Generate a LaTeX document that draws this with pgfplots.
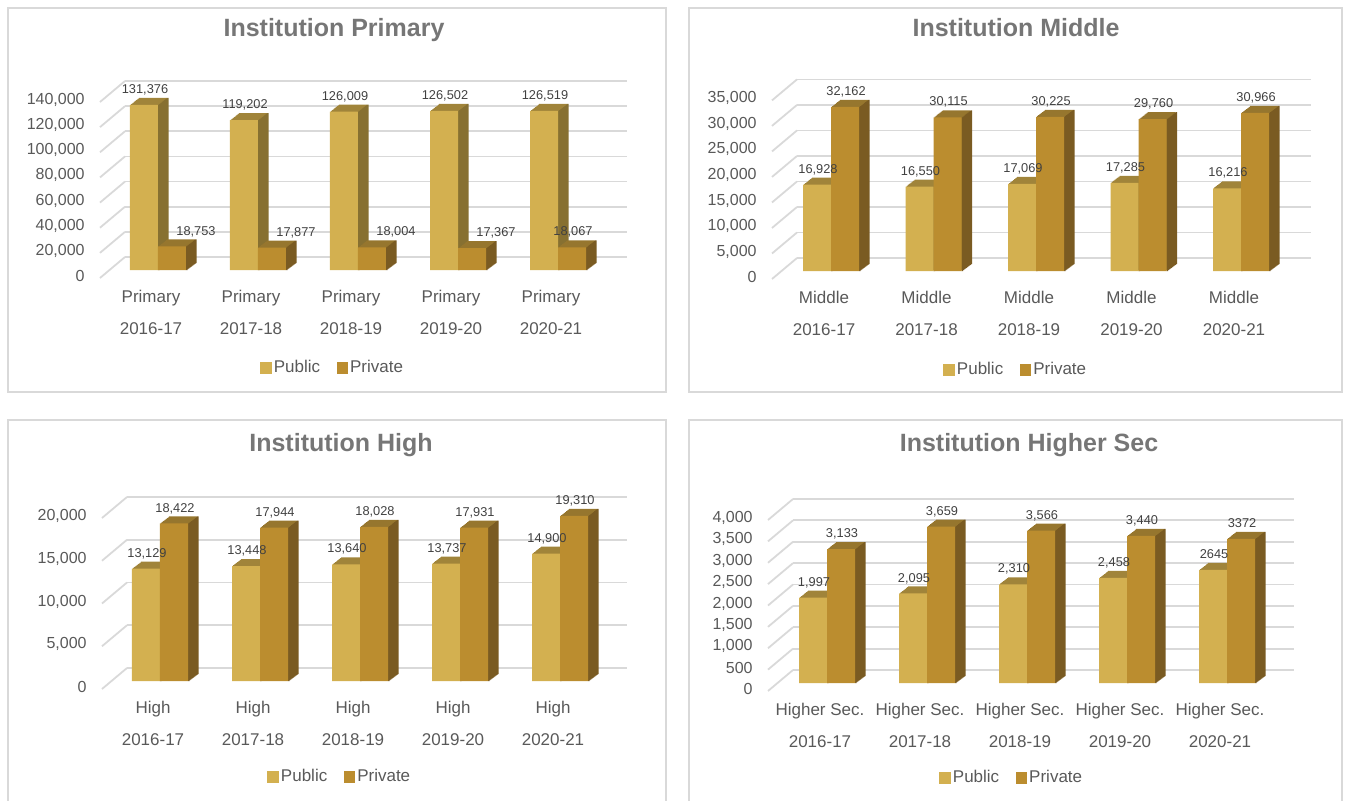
\documentclass[border=0pt]{standalone}
\usepackage{fontspec}
\setmainfont{Liberation Sans}
\usepackage{pgfplots}
\pgfplotsset{compat=1.18}
\usepackage{pgfplotstable}

\definecolor{pubfront}{HTML}{D3B050}
\definecolor{pubtop}{HTML}{A0843A}
\definecolor{pubside}{HTML}{877031}
\definecolor{privfront}{HTML}{BB8D2F}
\definecolor{privtop}{HTML}{96762E}
\definecolor{privside}{HTML}{7A5B22}
\definecolor{gridc}{HTML}{D9D9D9}
\definecolor{framec}{HTML}{D9D9D9}
\definecolor{tickc}{HTML}{595959}
\definecolor{labc}{HTML}{404040}
\definecolor{titlec}{HTML}{767676}

\newcommand{\tickfont}{\fontsize{8}{9.6}\selectfont}
\newcommand{\catfont}{\fontsize{8.5}{10}\selectfont}
\newcommand{\lblfont}{\fontsize{6.4}{7.5}\selectfont}
\newcommand{\legfont}{\fontsize{8.5}{10}\selectfont}
\newcommand{\titlefont}{\fontsize{12.5}{15}\selectfont\bfseries}

% pubx / privx: where each data label is centred
\pgfplotstableread{
x pub priv publ privl pubx privx
0 131376 18753 131,376 18,753 -0.14 0.37
1 119202 17877 119,202 17,877 0.86 1.37
2 126009 18004 126,009 18,004 1.86 2.37
3 126502 17367 126,502 17,367 2.86 3.37
4 126519 18067 126,519 18,067 3.86 4.14
}\tprim
\pgfplotstableread{
x pub priv publ privl pubx privx
0 16928 32162 16,928 32,162 -0.137 0.137
1 16550 30115 16,550 30,115 0.863 1.137
2 17069 30225 17,069 30,225 1.863 2.137
3 17285 29760 17,285 29,760 2.863 3.137
4 16216 30966 16,216 30,966 3.863 4.137
}\tmid
\pgfplotstableread{
x pub priv publ privl pubx privx
0 13129 18422 13,129 18,422 -0.14 0.14
1 13448 17944 13,448 17,944 0.86 1.14
2 13640 18028 13,640 18,028 1.86 2.14
3 13737 17931 13,737 17,931 2.86 3.14
4 14900 19310 14,900 19,310 3.86 4.14
}\thigh
\pgfplotstableread{
x pub priv publ privl pubx privx
0 1997 3133 1,997 3,133 -0.14 0.14
1 2095 3659 2,095 3,659 0.86 1.14
2 2310 3566 2,310 3,566 1.86 2.14
3 2458 3440 2,458 3,440 2.86 3.14
4 2645 3372 2645 3372 3.86 4.14
}\thsec

% extrusion (3D depth) of one series: top colour copies, then side colour copies
\newcommand{\depthseries}[6]{%
  \pgfplotsinvokeforeach{1,2,3,4,5,6,7,8,9}{%
    \addplot[ybar, bar width=14pt, bar shift=#3pt, fill=#5, draw=none, forget plot,
      xshift=##1*0.5pt, yshift=-6.5pt+##1*0.3889pt] table[x=x,y=#2]{#1};
  }%
  \pgfplotsinvokeforeach{0,1,2,3,4,5,6,7,8,9}{%
    \addplot[ybar, bar width=0.8pt, bar shift=#4pt, fill=#6, draw=none, forget plot,
      xshift=##1*0.5pt, yshift=-6.5pt+##1*0.3889pt] table[x=x,y=#2]{#1};
  }%
}
% front face
\newcommand{\frontseries}[4]{%
  \addplot[ybar, bar width=14pt, bar shift=#3pt, fill=#4, draw=none, forget plot, yshift=-6.5pt]
    table[x=x,y=#2]{#1};
}
% data labels
\newcommand{\labelseries}[4]{%
  \addplot[only marks, mark=none, forget plot, yshift=-6.5pt,
    point meta=explicit symbolic, nodes near coords={\pgfplotspointmeta},
    nodes near coords style={anchor=base, inner sep=0pt, yshift=5.7pt, xshift=0.5pt,
      font=\lblfont, text=labc}]
    table[x=#3,y=#2,meta=#4]{#1};
}
\newcommand{\allseries}[1]{%
  \depthseries{#1}{pub}{-7}{0.4}{pubtop}{pubside}%
  \frontseries{#1}{pub}{-7}{pubfront}%
  \depthseries{#1}{priv}{7}{14.4}{privtop}{privside}%
  \frontseries{#1}{priv}{7}{privfront}%
  \labelseries{#1}{pub}{pubx}{publ}%
  \labelseries{#1}{priv}{privx}{privl}%
  \addlegendimage{legend image code/.code={\fill[pubfront] (0pt,-2.6pt) rectangle (5.2pt,2.6pt);}}
  \addlegendentry{Public}
  \addlegendimage{legend image code/.code={\fill[privfront] (0pt,-2.6pt) rectangle (5.2pt,2.6pt);}}
  \addlegendentry{Private}
}
\newcommand{\diags}[2]{%
  \pgfplotsinvokeforeach{#2}{\draw[gridc, line width=0.9pt] (axis cs:#1,##1) -- ++(-12.5pt,-10.5pt);}%
}

\pgfplotsset{panel/.style={
  scale only axis, anchor=south west, clip=false, ymin=0,
  xtick={0,1,2,3,4},
  axis line style={draw=none}, tick style={draw=none}, major tick length=0pt,
  ymajorgrids, grid style={draw=gridc, line width=0.9pt},
  yticklabel style={anchor=east, inner sep=0pt, xshift=-20pt, yshift=-9.5pt, font=\tickfont, text=tickc},
  xticklabel style={anchor=base, inner sep=0pt, xshift=-3.5pt, yshift=-22.5pt, font=\catfont, text=tickc},
  extra x ticks={0,1,2,3,4},
  extra x tick labels={2016-17,2017-18,2018-19,2019-20,2020-21},
  extra x tick style={xticklabel style={yshift=-16.3pt}},
  scaled y ticks=false,
  yticklabel={\pgfmathprintnumber[fixed,precision=0,1000 sep={,},assume math mode=true]{\tick}},
  legend columns=-1,
  legend style={draw=none, fill=none, font=\legfont, text=tickc, anchor=center,
    nodes={inner sep=1.2pt},
    /tikz/every even column/.append style={column sep=7pt}},
}}

\begin{document}
\begin{tikzpicture}
\useasboundingbox (0,0) rectangle (673pt,400pt);
% frames
\draw[framec, line width=0.75pt] (4pt,204pt) rectangle (333pt,396pt);
\draw[framec, line width=0.75pt] (344.5pt,204pt) rectangle (671pt,396pt);
\draw[framec, line width=0.75pt] (4pt,-5pt) rectangle (333pt,190pt);
\draw[framec, line width=0.75pt] (344.5pt,-5pt) rectangle (671pt,190pt);
% titles
\node[font=\titlefont, text=titlec, anchor=base] at (167pt,381.5pt) {Institution Primary};
\node[font=\titlefont, text=titlec, anchor=base] at (508pt,381.5pt) {Institution Middle};
\node[font=\titlefont, text=titlec, anchor=base] at (170.5pt,174.5pt) {Institution High};
\node[font=\titlefont, text=titlec, anchor=base] at (514.5pt,174.5pt) {Institution Higher Sec};

% Primary
\begin{axis}[panel, at={(62.5pt,271.5pt)}, width=251pt, height=88pt,
  xmin=-0.33, xmax=4.69, ymax=140000, ytick={0,20000,40000,60000,80000,100000,120000,140000},
  xticklabels={Primary,Primary,Primary,Primary,Primary},
  legend style={at={(0.414,-0.631)}}]
\allseries{\tprim}
\diags{-0.33}{0,20000,40000,60000,80000,100000,120000,140000}
\end{axis}

% Middle
\begin{axis}[panel, at={(398.5pt,271pt)}, width=257pt, height=89.3pt,
  xmin=-0.332, xmax=4.683, ymax=35000, ytick={0,5000,10000,15000,20000,25000,30000,35000},
  xticklabels={Middle,Middle,Middle,Middle,Middle},
  legend style={at={(0.426,-0.626)}}]
\allseries{\tmid}
\diags{-0.332}{0,5000,10000,15000,20000,25000,30000,35000}
\end{axis}

% High
\begin{axis}[panel, at={(63.5pt,66pt)}, width=250pt, height=85.5pt,
  xmin=-0.33, xmax=4.67, ymax=20000, ytick={0,5000,10000,15000,20000},
  xticklabels={High,High,High,High,High},
  legend style={at={(0.426,-0.637)}}]
\allseries{\thigh}
\diags{-0.33}{0,5000,10000,15000,20000}
\end{axis}

% Higher Sec
\begin{axis}[panel, at={(396.5pt,65pt)}, width=250.5pt, height=85.5pt,
  xmin=-0.34, xmax=4.67, ymax=4000, ytick={0,500,1000,1500,2000,2500,3000,3500,4000},
  xticklabels={Higher Sec.,Higher Sec.,Higher Sec.,Higher Sec.,Higher Sec.},
  legend style={at={(0.437,-0.632)}}]
\allseries{\thsec}
\diags{-0.34}{0,500,1000,1500,2000,2500,3000,3500,4000}
\end{axis}
\end{tikzpicture}
\end{document}
